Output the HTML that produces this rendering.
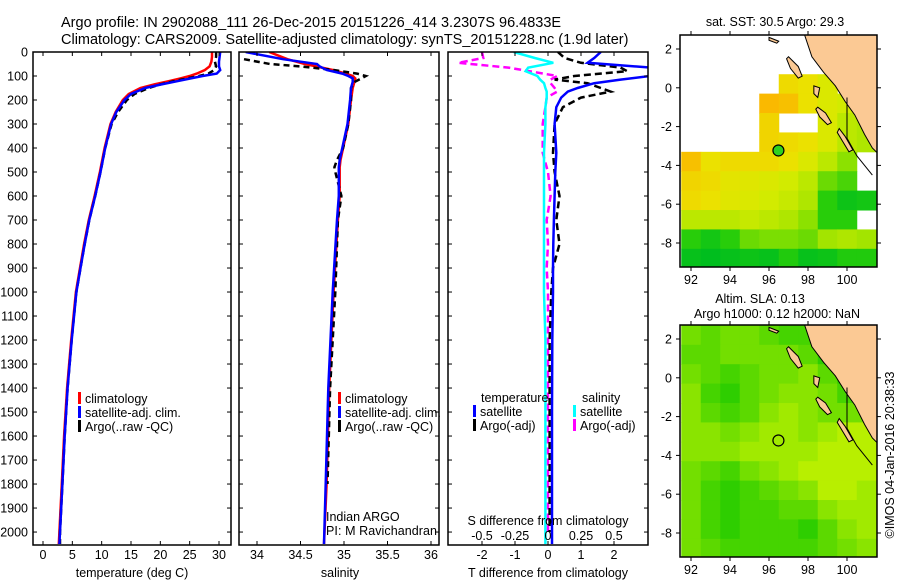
<!DOCTYPE html>
<html><head><meta charset="utf-8">
<style>
body{margin:0;background:#fff;}
svg{display:block;font-family:"Liberation Sans",Arial,sans-serif;}
</style></head>
<body>
<svg id="fig" width="900" height="580" viewBox="0 0 900 580">
<text x="61" y="27" font-size="14.5">Argo profile: IN 2902088_111 26-Dec-2015 20151226_414 3.2307S 96.4833E</text>
<text x="61" y="44" font-size="14.5">Climatology: CARS2009. Satellite-adjusted climatology: synTS_20151228.nc (1.9d later)</text>
<g id="layer"></g>
</svg>
<script>
// ---------- profile data ----------
const depthsT = [0,20,40,60,75,90,100,110,120,135,150,175,200,250,300,400,500,600,700,800,900,1000,1200,1400,1600,1800,2000,2050];
const tempClim = [28.8,28.8,28.7,28.4,27.6,26.2,25.0,23.4,21.7,19.0,16.6,14.6,13.6,12.4,11.5,10.5,9.7,8.8,7.8,7.0,6.3,5.6,4.8,4.1,3.6,3.2,2.8,2.7];
const tempSat  = [30.2,30.1,30.0,30.0,30.2,29.6,27.2,25.2,23.2,20.2,17.4,15.0,13.9,12.5,11.6,10.6,9.8,8.9,7.9,7.1,6.4,5.7,4.9,4.2,3.7,3.3,2.9,2.8];
const tempArgo = [29.5,29.5,29.3,29.5,29.2,28.2,26.6,24.6,22.6,20.0,18.0,15.6,14.3,12.8,11.7,10.6,9.8,8.9,7.9,7.1,6.4,5.7,4.9,4.2,3.7,3.3,2.9,2.9];
const depthsS = [0,30,50,60,75,90,100,110,125,150,200,300,400,450,480,500,600,700,1000,1400,1800,2050];
const salClim = [34.14,34.35,34.55,34.68,34.87,35.02,35.10,35.13,35.12,35.10,35.08,35.05,34.99,34.96,34.95,34.95,34.95,34.93,34.88,34.83,34.80,34.77];
const salSat  = [33.87,34.3,34.69,34.72,34.80,34.98,35.05,35.10,35.10,35.08,35.07,35.04,34.98,34.95,34.94,34.94,34.94,34.92,34.87,34.82,34.79,34.77];
const salArgo = [null,33.85,34.15,34.5,34.88,35.15,35.25,35.2,35.12,35.08,35.08,35.05,34.99,34.92,34.89,34.9,34.97,34.93,34.9,34.84,34.81,null];
// ---------- difference data ----------
const depthsD = [0,25,45,65,80,100,115,130,150,165,190,230,300,420,500,600,700,800,900,1000,1200,1500,2000,2050];
const dTsat  = [1.6,1.4,1.2,3.1,3.4,3.1,2.2,1.4,0.9,0.6,0.4,0.25,0.2,0.25,0.22,0.2,0.18,0.16,0.15,0.15,0.13,0.12,0.12,0.12];
const dTargo = [0.3,0.5,1.0,2.2,2.4,0.8,0.2,1.2,1.6,1.9,1.0,0.45,0.2,0.15,0.2,0.35,0.25,0.35,0.15,0.1,0.05,0.05,0.05,null];
const dSsat  = [-0.26,-0.1,0.04,-0.15,-0.17,-0.08,-0.06,-0.03,-0.02,-0.01,-0.01,-0.02,-0.02,-0.03,-0.03,-0.03,-0.03,-0.03,-0.03,-0.03,-0.02,-0.02,-0.02,-0.02];
const dSargo = [-0.5,-0.49,-0.68,-0.3,-0.14,0.07,0.02,0.02,0.05,0.07,-0.01,-0.02,-0.04,-0.04,0.0,0.02,-0.01,0.0,-0.01,0.0,0.0,0.0,0.0,null];
// ---------- axis ticks ----------
const depthTicks = [0,100,200,300,400,500,600,700,800,900,1000,1100,1200,1300,1400,1500,1600,1700,1800,1900,2000];
const tempTicks = [0,5,10,15,20,25,30];
const salTicks = [34,34.5,35,35.5,36];
const salTickLabels = ["34","34.5","35","35.5","36"];
const dTTicks = [-2,-1,0,1,2];
const dSTicks = [-0.5,-0.25,0,0.25,0.5];
const dSTickLabels = ["-0.5","-0.25","0","0.25","0.5"];
// ---------- map data (1-degree cells, lon 91.5..101.5, lat 2.7..-9.3) ----------
const sstGrid = [
[null,null,null,null,null,null,null,null,null,null],
[null,null,null,null,null,null,null,null,null,null],
[null,null,null,null,null,29.5,29.4,29.0,null,null],
[null,null,null,null,30.0,29.9,29.4,29.0,28.8,null],
[null,null,null,null,29.6,null,null,29.0,28.6,28.5],
[null,null,null,null,29.6,29.5,29.4,29.0,28.6,28.5],
[29.9,29.4,29.5,29.5,29.5,29.4,29.0,28.6,28.2,null],
[29.6,29.5,29.2,29.1,29.0,28.8,28.6,28.0,27.8,null],
[29.5,29.4,29.1,29.0,28.8,28.7,28.5,27.6,27.2,27.3],
[28.6,28.6,28.6,28.7,28.6,28.5,28.2,27.6,27.6,null],
[27.6,27.3,27.6,28.0,28.1,28.1,28.0,28.4,28.5,28.4],
[27.1,27.0,27.1,27.2,27.1,27.5,27.1,27.2,27.5,27.5]];
const slaGrid = [
[.5,.4,.5,.5,.4,.3,.3,.2,.3,.4],
[.4,.4,.5,.5,.5,.5,.4,.2,.2,.3],
[.5,.4,.3,.4,.5,.5,.6,.4,.2,.2],
[.6,.3,.2,.4,.5,.6,.6,.5,.3,.2],
[.6,.4,.3,.4,.6,.7,.6,.5,.5,.5],
[.6,.6,.5,.6,.7,.7,.6,.7,.8,.8],
[.6,.6,.6,.7,.7,.7,.7,.8,.8,.8],
[.5,.4,.3,.5,.6,.7,.8,.8,.8,.8],
[.5,.3,.2,.3,.4,.5,.6,.8,.8,.7],
[.5,.3,.2,.3,.3,.4,.4,.6,.7,.7],
[.5,.3,.2,.3,.3,.3,.2,.4,.6,.7],
[.5,.4,.3,.3,.3,.3,.3,.4,.5,.6]];
const lonTicks = [92,94,96,98,100];
const latTicks = [2,0,-2,-4,-6,-8];
const argoLon = 96.4833, argoLat = -3.2307;
const sumatra = [[97.8,2.8],[98.2,1.6],[98.8,0.8],[99.4,0.1],[99.9,-0.7],[100.4,-1.4],[100.9,-2.4],[101.3,-3.1],[101.6,-3.4],[101.6,2.8]];
const islands = [
 [[97.0,1.6],[97.5,1.1],[97.7,0.6],[97.5,0.5],[97.1,1.0],[96.9,1.5]],
 [[98.5,-1.0],[98.9,-1.3],[99.2,-1.8],[99.0,-1.9],[98.6,-1.5],[98.4,-1.1]],
 [[99.6,-2.1],[99.9,-2.5],[100.3,-3.2],[100.1,-3.3],[99.8,-2.8],[99.5,-2.3]],
 [[98.3,0.1],[98.6,0.0],[98.5,-0.5],[98.3,-0.3]],
 [[96.0,2.6],[96.5,2.4],[96.4,2.3],[96.0,2.45]]];

// ---------- helpers ----------
const NS="http://www.w3.org/2000/svg";
const layer=document.getElementById('layer');
function mk(tag,attrs,parent){const e=document.createElementNS(NS,tag);for(const k in attrs)e.setAttribute(k,attrs[k]);(parent||layer).appendChild(e);return e;}
function txt(s,x,y,size,anchor,parent){const t=mk('text',{x:x,y:y,'font-size':size,'text-anchor':anchor||'start'},parent);t.textContent=s;return t;}

const Y0=52, YB=545, DMAX=2054;
function yD(d){return Y0+d/DMAX*(YB-Y0);}
function linScale(d0,d1,p0,p1){return v=>p0+(v-d0)/(d1-d0)*(p1-p0);}
const xT=linScale(0,30,43,219);
const xS=linScale(34,36,257,431);
const xDT=linScale(0,2,548,614);
const xDS=v=>xDT(v*4);

function frame(x0,x1,name){
  const r=mk('rect',{x:x0,y:Y0,width:x1-x0,height:YB-Y0,fill:'none',stroke:'#000','stroke-width':1.5});
  
  
  for(const d of depthTicks){const y=yD(d);mk('line',{x1:x0,x2:x0+4,y1:y,y2:y,stroke:'#000'});mk('line',{x1:x1,x2:x1-4,y1:y,y2:y,stroke:'#000'});}
}
function xticks(ticks,labels,sc,yl,x0,x1,name){
  const g=mk('g',{});
  
  
  ticks.forEach((v,i)=>{const x=sc(v);if(x<x0||x>x1)return;
    mk('line',{x1:x,x2:x,y1:YB,y2:YB-4,stroke:'#000'},g);
    mk('line',{x1:x,x2:x,y1:Y0,y2:Y0+4,stroke:'#000'},g);
    txt(labels[i],x,yl,12.5,'middle',g);});
}
function path(ds,vs,sc,color,w,dash,name){
  let d='',pen=false;
  ds.forEach((dep,i)=>{const v=vs[i];if(v===null||v===undefined){pen=false;return;}
    d+=(pen?'L':'M')+sc(v).toFixed(1)+','+yD(dep).toFixed(1);pen=true;});
  const p=mk('path',{d:d,fill:'none',stroke:color,'stroke-width':w,'stroke-dasharray':dash||'none'});
  
  
  return p;
}
function legendEntry(x,y,color,label,name){
  const g=mk('g',{});
  
  
  mk('rect',{x:x,y:y-11,width:3,height:12,fill:color},g);
  txt(label,x+7,y,12.5,'start',g);
}

// ---------- panel 1: temperature ----------
const p1c=mk('clipPath',{id:'c1'});mk('rect',{x:33,y:Y0,width:198,height:YB-Y0},p1c);
const p2c=mk('clipPath',{id:'c2'});mk('rect',{x:239,y:Y0,width:200,height:YB-Y0},p2c);
const p3c=mk('clipPath',{id:'c3'});mk('rect',{x:448,y:Y0,width:200,height:YB-Y0},p3c);

const g1=mk('g',{'clip-path':'url(#c1)'});
g1.appendChild(path(depthsT,tempClim,xT,'#f00',2.5,null,'temp-climatology-line'));
g1.appendChild(path(depthsT,tempArgo,xT,'#000',2.5,'6 4','temp-argo-line'));
g1.appendChild(path(depthsT,tempSat,xT,'#00f',2.5,null,'temp-satellite-line'));
frame(33,231,'temperature-panel-frame');
const yl=mk('g',{});


for(const d of depthTicks){txt(String(d),28,yD(d)+4.5,12.5,'end',yl);}
xticks(tempTicks,tempTicks.map(String),xT,559,33,231,'temperature-axis');
let t=txt('temperature (deg C)',132,577,12.5,'middle');


legendEntry(78,403,'#f00','climatology','legend-climatology');
legendEntry(78,417,'#00f','satellite-adj. clim.','legend-satellite');
legendEntry(78,431,'#000','Argo(..raw -QC)','legend-argo');

// ---------- panel 2: salinity ----------
const g2=mk('g',{'clip-path':'url(#c2)'});
g2.appendChild(path(depthsS,salClim,xS,'#f00',2.5,null,'sal-climatology-line'));
g2.appendChild(path(depthsS,salArgo,xS,'#000',2.5,'6 4','sal-argo-line'));
g2.appendChild(path(depthsS,salSat,xS,'#00f',2.5,null,'sal-satellite-line'));
frame(239,439,'salinity-panel-frame');
xticks(salTicks,salTickLabels,xS,559,239,439,'salinity-axis');
t=txt('salinity',340,577,12.5,'middle');


legendEntry(338,403,'#f00','climatology','legend-climatology-2');
legendEntry(338,417,'#00f','satellite-adj. clim.','legend-satellite-2');
legendEntry(338,431,'#000','Argo(..raw -QC)','legend-argo-2');
t=txt('Indian ARGO',326,521,12.5,'start');


t=txt('PI: M Ravichandran',326,535,12.5,'start');


t.setAttribute('textLength','111');

// ---------- panel 3: differences ----------
const g3=mk('g',{'clip-path':'url(#c3)'});
g3.appendChild(path(depthsD,dSargo,xDS,'#f0f',2.5,'7 4','sdiff-argo-line'));
g3.appendChild(path(depthsD,dSsat,xDS,'#0ff',2.5,null,'sdiff-satellite-line'));
g3.appendChild(path(depthsD,dTargo,xDT,'#000',2.5,'7 4','tdiff-argo-line'));
g3.appendChild(path(depthsD,dTsat,xDT,'#00f',2.5,null,'tdiff-satellite-line'));
frame(448,648,'difference-panel-frame');
xticks(dTTicks,dTTicks.map(v=>v<0?'-'+(-v):String(v)),xDT,559,448,648,'t-difference-axis');
const sg=mk('g',{});


dSTicks.forEach((v,i)=>txt(dSTickLabels[i],xDS(v),540,12.5,'middle',sg));
t=txt('S difference from climatology',548,525,12.5,'middle');


t=txt('T difference from climatology',548,577,12.5,'middle');


t=txt('temperature',481,402,12.5,'start');


t=txt('salinity',582,402,12.5,'start');


legendEntry(473,416,'#00f','satellite','legend-t-satellite');
legendEntry(473,430,'#000','Argo(-adj)','legend-t-argo');
legendEntry(573,416,'#0ff','satellite','legend-s-satellite');
legendEntry(573,430,'#f0f','Argo(-adj)','legend-s-argo');

// ---------- maps ----------
function sstColor(v){
  const stops=[[27,[0,190,30]],[27.6,[40,205,10]],[28.2,[140,225,0]],[28.8,[210,235,0]],[29.4,[235,225,0]],[30,[250,185,0]]];
  if(v<=stops[0][0])return 'rgb('+stops[0][1]+')';
  for(let i=1;i<stops.length;i++){if(v<=stops[i][0]){const a=stops[i-1],b=stops[i],f=(v-a[0])/(b[0]-a[0]);
    return 'rgb('+a[1].map((c,k)=>Math.round(c+f*(b[1][k]-c))).join(',')+')';}}
  return 'rgb('+stops[stops.length-1][1]+')';
}
function slaColor(v){
  const a=[0,195,0],b=[230,250,0];
  return 'rgb('+a.map((c,k)=>Math.round(c+v*(b[k]-c))).join(',')+')';
}
function drawMap(top,grid,colorFn,filled,name,lonLabelY){
  const L=680,R=877,B=top+232;
  const mx=linScale(92,100,691,847);
  const lat2y=top+14, my=v=>lat2y+(2-v)*19.4;
  const cp=mk('clipPath',{id:'m'+top});mk('rect',{x:L,y:top,width:R-L,height:B-top},cp);
  const g=mk('g',{'clip-path':'url(#m'+top+')'});
  
  
  grid.forEach((row,r)=>row.forEach((v,c)=>{
    if(v===null)return;
    const lon0=91.5+c, lat0=2.7-r;
    const cell=mk('rect',{x:mx(lon0),y:my(lat0),width:mx(lon0+1)-mx(lon0)+0.5,height:my(lat0-1)-my(lat0)+0.5,fill:colorFn(v)},g);
    
    
  }));
  const land=mk('polygon',{points:sumatra.map(p=>mx(p[0])+','+my(p[1])).join(' '),fill:'#fbc994',stroke:'#000','stroke-width':1},g);
  
  
  islands.forEach(isl=>{const p=mk('polygon',{points:isl.map(q=>mx(q[0])+','+my(q[1])).join(' '),fill:'#fbc994',stroke:'#000','stroke-width':1},g);
    
    });
  mk('polyline',{points:[[100,-0.5],[100,-2.6],[100.5,-3.5],[101.3,-4.5]].map(q=>mx(q[0])+','+my(q[1])).join(' '),fill:'none',stroke:'#000','stroke-width':1},g);
  const c=mk('circle',{cx:mx(argoLon),cy:my(argoLat),r:5.5,fill:filled?'#30d020':'none',stroke:'#000','stroke-width':1.2},g);
  
  
  mk('rect',{x:L,y:top,width:R-L,height:B-top,fill:'none',stroke:'#000','stroke-width':1.5});
  lonTicks.forEach(v=>{const x=mx(v);mk('line',{x1:x,x2:x,y1:B,y2:B+4,stroke:'#000'});mk('line',{x1:x,x2:x,y1:top,y2:top-4,stroke:'#000'});txt(String(v),x,lonLabelY,12.5,'middle');});
  latTicks.forEach(v=>{const y=my(v);mk('line',{x1:L,x2:L-4,y1:y,y2:y,stroke:'#000'});mk('line',{x1:R,x2:R+4,y1:y,y2:y,stroke:'#000'});txt(v<0?'-'+(-v):String(v),672,y+4.5,12.5,'end');});
}
drawMap(35,sstGrid,sstColor,true,'sst-map',284);
drawMap(325,slaGrid,slaColor,false,'sla-map',574);
t=txt('sat. SST: 30.5 Argo: 29.3',775,26,12.5,'middle');


t=txt('Altim. SLA: 0.13',760,303,12.5,'middle');


t=txt('Argo h1000: 0.12 h2000: NaN',777,318,12.5,'middle');


t=txt('\u00A9IMOS 04-Jan-2016 20:38:33',0,0,12.5,'middle');
t.setAttribute('transform','translate(894,455) rotate(-90)');


</script>
</body></html>
